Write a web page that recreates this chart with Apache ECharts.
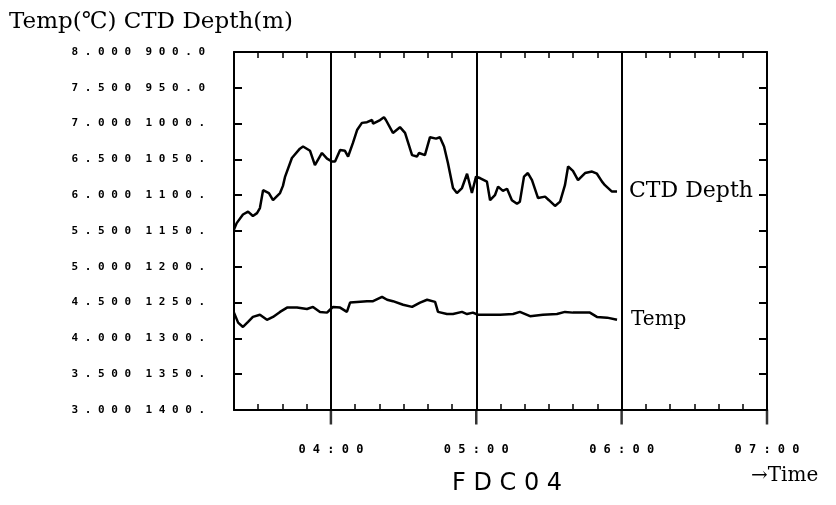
<!DOCTYPE html>
<html>
<head>
<meta charset="utf-8">
<script src="https://cdn.jsdelivr.net/npm/echarts@6/dist/echarts.min.js"></script>
<style>
html,body{margin:0;padding:0;background:#fff;}
#c{width:836px;height:505px;}
</style>
</head>
<body>
<div id="c"></div>
<script>
// Time in minutes since 00:00
var depthTime = [200, 201.1, 203.7, 205.8, 207.8, 209.5, 210.7, 212.0, 214.4, 216.1, 219.0, 220.2, 221.1, 223.9, 227.2, 228.5, 231.4, 233.4, 236.3, 238.4, 240.5, 241.7, 243.8, 245.8, 247.1, 249.1, 250.8, 252.8, 254.9, 257.0, 257.4, 260.3, 261.9, 262.7, 265.6, 268.5, 270.6, 273.5, 275.5, 276.4, 278.8, 280.9, 283.4, 285.0, 286.7, 288.3, 290.4, 292.0, 294.1, 296.2, 298.2, 299.9, 301.5, 304.4, 305.7, 307.7, 309.0, 311.0, 312.7, 314.7, 316.8, 318.0, 319.7, 321.3, 323.0, 325.5, 328.4, 330.0, 332.5, 334.6, 336.6, 337.9, 339.9, 342.0, 344.9, 347.8, 349.8, 351.9, 353.1, 356.0, 358.1];
var depthValues = [1148, 1139, 1127, 1123, 1129, 1125, 1118, 1093, 1097, 1107, 1097, 1087, 1074, 1048, 1035, 1032, 1038, 1058, 1041, 1049, 1053, 1053, 1037, 1038, 1046, 1027, 1009, 999, 998, 995, 1000, 995, 991, 995, 1013, 1005, 1013, 1044, 1046, 1041, 1044, 1019, 1021, 1019, 1032, 1055, 1090, 1097, 1090, 1070, 1097, 1074, 1076, 1081, 1107, 1100, 1088, 1094, 1091, 1107, 1112, 1109, 1074, 1069, 1079, 1104, 1102, 1107, 1115, 1109, 1086, 1060, 1066, 1079, 1069, 1067, 1070, 1081, 1086, 1095, 1095, 1102];
var tempTime = [200, 201.7, 203.7, 205.8, 207.8, 210.7, 213.6, 216.1, 219.0, 221.9, 226.0, 230.1, 232.6, 235.5, 238.4, 239.6, 240.9, 243.8, 246.6, 247.9, 250.8, 254.9, 257.4, 261.1, 263.2, 265.6, 269.8, 273.5, 276.8, 279.7, 283.0, 284.2, 287.9, 290.4, 294.1, 296.2, 298.6, 300.7, 304.4, 309.8, 315.2, 318.0, 322.2, 327.5, 333.3, 336.6, 339.9, 346.9, 349.8, 354.0, 358.1];
var tempValues = [4.36, 4.22, 4.16, 4.23, 4.30, 4.33, 4.26, 4.30, 4.37, 4.43, 4.43, 4.41, 4.44, 4.37, 4.36, 4.40, 4.44, 4.43, 4.37, 4.50, 4.51, 4.52, 4.52, 4.58, 4.54, 4.52, 4.47, 4.44, 4.50, 4.54, 4.51, 4.37, 4.34, 4.34, 4.37, 4.34, 4.36, 4.33, 4.33, 4.33, 4.34, 4.37, 4.31, 4.33, 4.34, 4.37, 4.36, 4.36, 4.30, 4.29, 4.26];

var tempLabels = ['3.000','3.500','4.000','4.500','5.000','5.500','6.000','6.500','7.000','7.500','8.000'];
var depthLabels = ['900.0','950.0','1000.','1050.','1100.','1150.','1200.','1250.','1300.','1350.','1400.'];
var hourTicks = [240, 300, 360, 420];
var hourLabels = ['04:00','05:00','06:00','07:00'];
var hourLines = [240, 300, 360];

function spaced(s){ return s.split('').join(' '); }

var chart = echarts.init(document.getElementById('c'), null, {renderer:'canvas'});
var lblFont = {color:'#000', fontFamily:'DejaVu Sans Mono', fontWeight:'bold', fontSize:11};
var axisLineStyle = {color:'#000', width:2};

chart.setOption({
  backgroundColor:'#fff',
  animation:false,
  title:{
    text:'Temp(℃) CTD Depth(m)',
    left:4, top:6,
    textStyle:{color:'#000', fontFamily:'DejaVu Serif', fontWeight:'normal', fontSize:23}
  },
  grid:{left:234, right:69, top:52, bottom:95},
  xAxis:[
    {
      type:'value', min:200, max:420, position:'bottom',
      axisLine:{show:true, lineStyle:axisLineStyle},
      axisTick:{show:false},
      axisLabel:{customValues:hourTicks, margin:34, color:'#000', fontFamily:'DejaVu Sans Mono', fontWeight:'bold', fontSize:12,
        formatter:function(v){ var i = hourTicks.indexOf(Math.round(v)); return i>=0 ? spaced(hourLabels[i]) : ''; }},
      splitLine:{show:false}
    },
    {
      type:'value', min:200, max:420, interval:10, position:'bottom',
      axisLine:{show:false},
      axisTick:{show:true, inside:true, length:6, lineStyle:{color:'#000', width:1.5}},
      axisLabel:{show:false}, splitLine:{show:false}
    },
    {
      type:'value', min:200, max:420, interval:10, position:'top',
      axisLine:{show:true, lineStyle:axisLineStyle},
      axisTick:{show:true, inside:true, length:6, lineStyle:{color:'#000', width:1.5}},
      axisLabel:{show:false}, splitLine:{show:false}
    }
  ],
  yAxis:[
    {
      type:'value', min:3, max:8, interval:0.5, position:'left',
      axisLine:{show:true, lineStyle:axisLineStyle},
      axisTick:{show:true, inside:true, length:8, lineStyle:{color:'#000', width:2}},
      axisLabel:Object.assign({margin:103, formatter:function(v){ return spaced(tempLabels[Math.round((v-3)/0.5)]); }}, lblFont),
      splitLine:{show:false}
    },
    {
      type:'value', min:900, max:1400, interval:50, inverse:true, position:'left',
      axisLine:{show:false}, axisTick:{show:false},
      axisLabel:Object.assign({margin:29, formatter:function(v){ return spaced(depthLabels[Math.round((v-900)/50)]); }}, lblFont),
      splitLine:{show:false}
    },
    {
      type:'value', min:3, max:8, interval:0.5, position:'right',
      axisLine:{show:true, lineStyle:axisLineStyle},
      axisTick:{show:true, inside:true, length:8, lineStyle:{color:'#000', width:2}},
      axisLabel:{show:false}, splitLine:{show:false}
    }
  ],
  series:[
    {
      name:'CTD Depth', type:'line', xAxisIndex:0, yAxisIndex:1,
      data:depthTime.map(function(t,i){ return [t, depthValues[i]]; }),
      symbol:'none', lineStyle:{color:'#000', width:2.5},
      endLabel:{show:true, formatter:'CTD Depth', distance:12, color:'#000', fontFamily:'DejaVu Serif', fontSize:22},
      markLine:{
        silent:true, symbol:['none','none'], label:{show:false},
        lineStyle:{color:'#000', width:2, type:'solid'},
        data:hourLines.map(function(h){ return {xAxis:h}; })
      }
    },
    {
      name:'Temp', type:'line', xAxisIndex:0, yAxisIndex:0,
      data:tempTime.map(function(t,i){ return [t, tempValues[i]]; }),
      symbol:'none', lineStyle:{color:'#000', width:2.5},
      endLabel:{show:true, formatter:'Temp', distance:14, color:'#000', fontFamily:'DejaVu Serif', fontSize:20}
    },
    {
      name:'hourTicks', type:'scatter', xAxisIndex:0, yAxisIndex:0,
      data:hourTicks.map(function(h){ return [h, 3]; }),
      symbol:'rect', symbolSize:[2.5, 15], symbolOffset:[0, 7], clip:false, silent:true,
      itemStyle:{color:'#000'}
    }
  ],
  graphic:[
    {type:'text', left:452, top:472, style:{text:'F D C 0 4', fill:'#000', font:'24px "DejaVu Sans"'}},
    {type:'text', left:751, top:466, style:{text:'→Time', fill:'#000', font:'20px "DejaVu Serif"'}}
  ]
});
</script>
</body>
</html>
